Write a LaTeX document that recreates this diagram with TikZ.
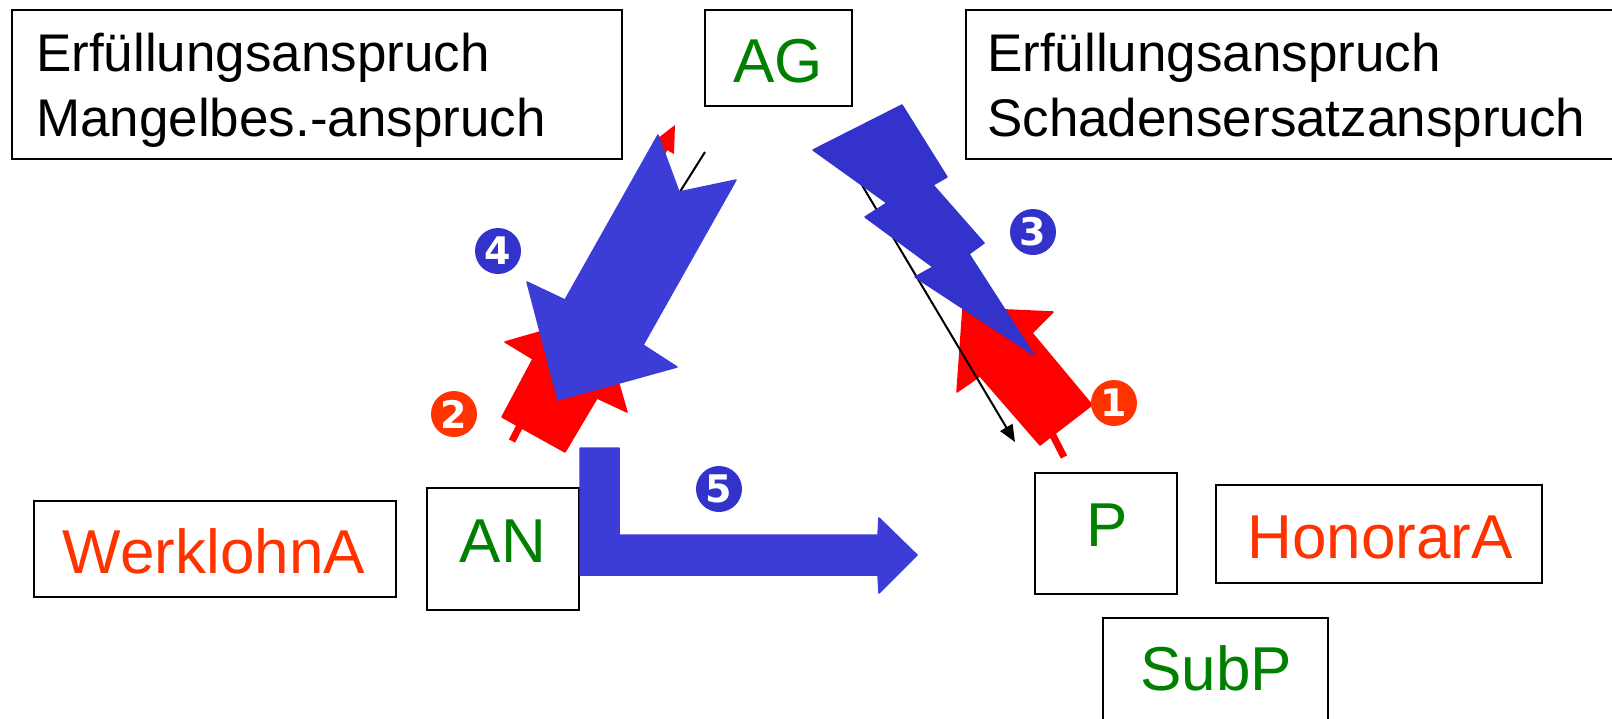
\documentclass[tikz,border=0pt]{standalone}
\usepackage{fontspec}
\setmainfont{Liberation Sans}
\newfontfamily\numfont{DejaVu Sans}
\usetikzlibrary{arrows.meta}
\definecolor{tgreen}{RGB}{0,128,0}
\definecolor{torange}{RGB}{255,51,0}
\definecolor{ared}{RGB}{255,0,0}
\definecolor{ablue}{RGB}{60,60,215}
\definecolor{lblue}{RGB}{51,51,204}
\definecolor{cblue}{RGB}{51,51,204}
\begin{document}
\begin{tikzpicture}[x=1pt,y=-1pt,
  box/.style={draw=black, line width=2.2pt, rectangle, inner sep=0pt},
  blacktext/.style={font=\fontsize{53}{60}\selectfont, inner sep=0pt, anchor=base west},
  lbl/.style={font=\fontsize{62}{70}\selectfont, inner sep=0pt, anchor=base},
  numc/.style={circle, inner sep=0pt, minimum size=46pt, text=white, font=\numfont\bfseries\fontsize{38}{40}\selectfont},
  redarrow/.style={fill=ared, draw=ared, line width=1.5pt, line join=round},
  bluearrow/.style={fill=ablue, draw=ablue, line width=1.5pt, line join=round},
  boltstyle/.style={fill=lblue, draw=lblue, line width=1.5pt, line join=round},
  thinline/.style={draw=black, line width=2pt},
  redline/.style={draw=ared, line width=7pt}
]
\useasboundingbox (0,0) rectangle (1612,718);
\clip (0,0) rectangle (1612,718);

% boxes
\node[box, minimum width=610pt, minimum height=149pt] (lbox) at (317,84.5) {};
\node[box, minimum width=674pt, minimum height=149pt] (rbox) at (1303,84.5) {};
\node[box, minimum width=147pt, minimum height=96pt] (ag) at (778.5,58) {};
\node[box, minimum width=152pt, minimum height=122pt] (an) at (503,549) {};
\node[box, minimum width=362pt, minimum height=96pt] (wl) at (215,549) {};
\node[box, minimum width=142pt, minimum height=121pt] (p) at (1106,533.5) {};
\node[box, minimum width=326pt, minimum height=98pt] (ho) at (1379,534) {};
\node[box, minimum width=225pt, minimum height=122pt] (subp) at (1215.5,679) {};

% texts
\node[blacktext] (t1) at (36,71) {Erfüllungsanspruch};
\node[blacktext] (t2) at (36,136) {Mangelbes.-anspruch};
\node[blacktext] (t3) at (987,71) {Erfüllungsanspruch};
\node[blacktext] (t4) at (987,136) {Schadensersatzanspruch};
\node[lbl, text=tgreen] (agt) at (778,82) {AG};
\node[lbl, text=tgreen] (ant) at (503,562) {AN};
\node[lbl, text=torange] (wlt) at (214,573) {WerklohnA};
\node[lbl, text=tgreen] (pt) at (1107,546) {P};
\node[lbl, text=torange] (hot) at (1380,558) {HonorarA};
\node[lbl, text=tgreen] (subpt) at (1216,690) {SubP};

% thin connectors (mostly hidden)
\coordinate (rl1) at (512,441);
\coordinate (rl2) at (664.5,148);
\draw[redline] (rl1) -- (rl2);
\fill[ared] (653,142) -- (675,125) -- (674,154) -- cycle;
\coordinate (rs1) at (1045,420);
\coordinate (rs2) at (1064,457);
\draw[redline] (rs1) -- (rs2);
\coordinate (bl1) at (705,152);
\coordinate (bl2) at (615,295);
\draw[thinline] (bl1) -- (bl2);

% red arrows
\path[redarrow] (502,417) -- (533,359) -- (505,342) -- (599,315) -- (627,412) -- (597,398) -- (565,452) -- cycle;
\path[redarrow] (963,308) -- (1053,312) -- (1032,333) -- (1092,405) -- (1040,445) -- (980,376) -- (957,392) -- cycle;

% black arrow AG -> P
\coordinate (br1) at (850,165);
\coordinate (br2) at (1015,442);
\draw[thinline, -{Triangle[length=17pt,width=14pt]}] (br1) -- (br2);

% blue arrows
\path[bluearrow] (658,135) -- (679,192) -- (736,180) -- (643,345) -- (677,367) -- (558,400) -- (527,282) -- (565,300) -- cycle;
\path[bluearrow] (580,448) -- (619,448) -- (619,535) -- (878,535) -- (879,518) -- (917,555) -- (879,593) -- (878,575) -- (580,575) -- cycle;
\path[boltstyle] (813,150) -- (902,105) -- (947,177) -- (933,185) -- (984,243) -- (969,254) -- (1034,355) -- (915,277) -- (933,267) -- (865,217) -- (887,203) -- cycle;

% numbers
\node[numc, fill=cblue] (n4) at (498,251) {4};
\node[numc, fill=torange] (n2) at (454,414) {2};
\node[numc, fill=cblue] (n3) at (1033,232) {3};
\node[numc, fill=torange] (n1) at (1114,403) {1};
\node[numc, fill=cblue] (n5) at (719,489) {5};
\end{tikzpicture}
\end{document}
